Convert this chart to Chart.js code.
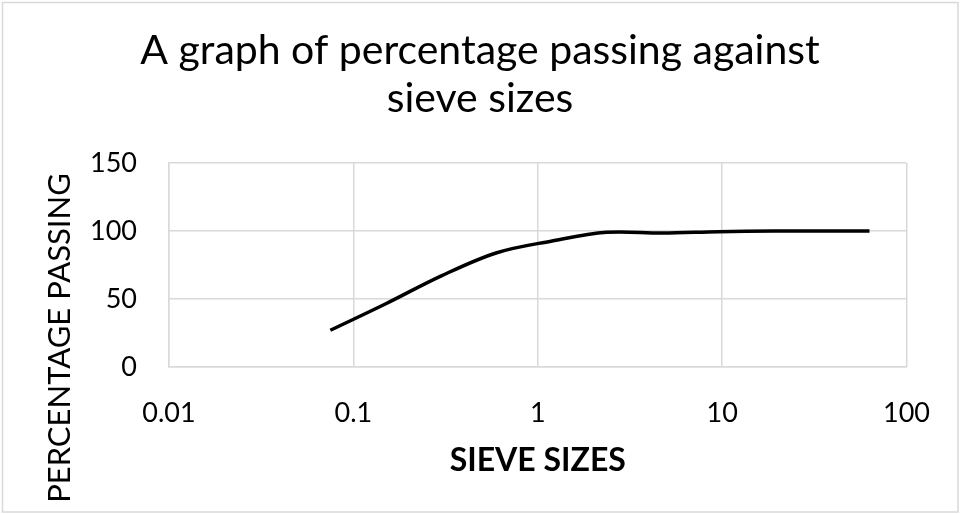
<!DOCTYPE html>
<html>
<head>
<meta charset="utf-8">
<script src="https://cdn.jsdelivr.net/npm/chart.js@4.4.1/dist/chart.umd.min.js"></script>
<style>
  html, body { margin: 0; padding: 0; background: #fff; }
  #wrap { width: 960px; height: 514px; }
</style>
</head>
<body>
<div id="wrap"><canvas id="myChart" width="960" height="514"></canvas></div>
<script>
// sieve analysis values
const sieveSizes = [0.075, 0.15, 0.3, 0.6, 1.18, 2.36, 4.75, 9.5, 19, 37.5, 63];
const percentPassing = [27, 46.5, 67, 84, 92.5, 99, 98.5, 99.5, 100, 100, 100];

const xTicks = [0.01, 0.1, 1, 10, 100];
const yTicks = [0, 50, 100, 150];

const titleLines = ['A graph of percentage passing against', 'sieve sizes'];
const xTitle = 'SIEVE SIZES';
const yTitle = 'PERCENTAGE PASSING';

const FONT = 'Lato, "Open Sans", sans-serif';
const GRID = '#d9d9d9';

// outer frame + rotated y title (placed like the original, not centred on the plot)
const decor = {
  id: 'decor',
  beforeDraw(chart) {
    const ctx = chart.ctx;
    ctx.save();
    ctx.fillStyle = '#fff';
    ctx.fillRect(0, 0, chart.width, chart.height);
    ctx.strokeStyle = GRID;
    ctx.lineWidth = 1.5;
    ctx.strokeRect(2.5, 2.5, chart.width - 4.5, chart.height - 4.5);
    ctx.restore();
  },
  afterDraw(chart) {
    const ctx = chart.ctx;
    ctx.save();
    ctx.translate(70, 338);
    ctx.rotate(-Math.PI / 2);
    ctx.font = '31px ' + FONT;
    ctx.fillStyle = '#000';
    ctx.textAlign = 'center';
    ctx.textBaseline = 'alphabetic';
    ctx.fillText(yTitle, 0, 0);
    ctx.restore();
  }
};

let ctx = document.getElementById('myChart');
let myChart = new Chart(ctx, {
  type: 'line',
  data: {
    datasets: [{
      data: sieveSizes.map((s, i) => ({ x: s, y: percentPassing[i] })),
      borderColor: '#000',
      borderWidth: 3.5,
      pointRadius: 0,
      tension: 0.35,
      fill: false
    }]
  },
  plugins: [decor],
  options: {
    responsive: false,
    animation: false,
    // equal side padding keeps the chart title centred on the canvas
    layout: { padding: { left: 53, right: 53, top: 0, bottom: 0 } },
    plugins: {
      legend: { display: false },
      tooltip: { enabled: false },
      title: {
        display: true,
        text: titleLines,
        color: '#000',
        font: { family: FONT, size: 41, weight: 'normal', lineHeight: 1.17 },
        padding: { top: 27, bottom: 40 }
      }
    },
    scales: {
      x: {
        type: 'logarithmic',
        min: 0.01,
        max: 100,
        afterBuildTicks: s => { s.ticks = xTicks.map(v => ({ value: v })); },
        afterFit: s => { s.height = 147; },
        grid: { color: GRID, lineWidth: 1.5, drawTicks: false },
        border: { color: GRID, width: 1.5 },
        ticks: {
          color: '#000',
          padding: 30,
          autoSkip: false,
          maxRotation: 0,
          font: { family: FONT, size: 27 },
          callback: v => String(v)
        },
        title: {
          display: true,
          text: xTitle,
          color: '#000',
          font: { family: FONT, size: 32, weight: 'bold' },
          padding: { top: 0, bottom: 34 }
        }
      },
      y: {
        min: 0,
        max: 150,
        afterBuildTicks: s => { s.ticks = yTicks.map(v => ({ value: v })); },
        afterFit: s => { s.width = 116; },
        grid: { color: GRID, lineWidth: 1.5, drawTicks: false },
        border: { color: GRID, width: 1.5 },
        ticks: {
          color: '#000',
          padding: 32,
          font: { family: FONT, size: 27 }
        }
      }
    }
  }
});
</script>
</body>
</html>
